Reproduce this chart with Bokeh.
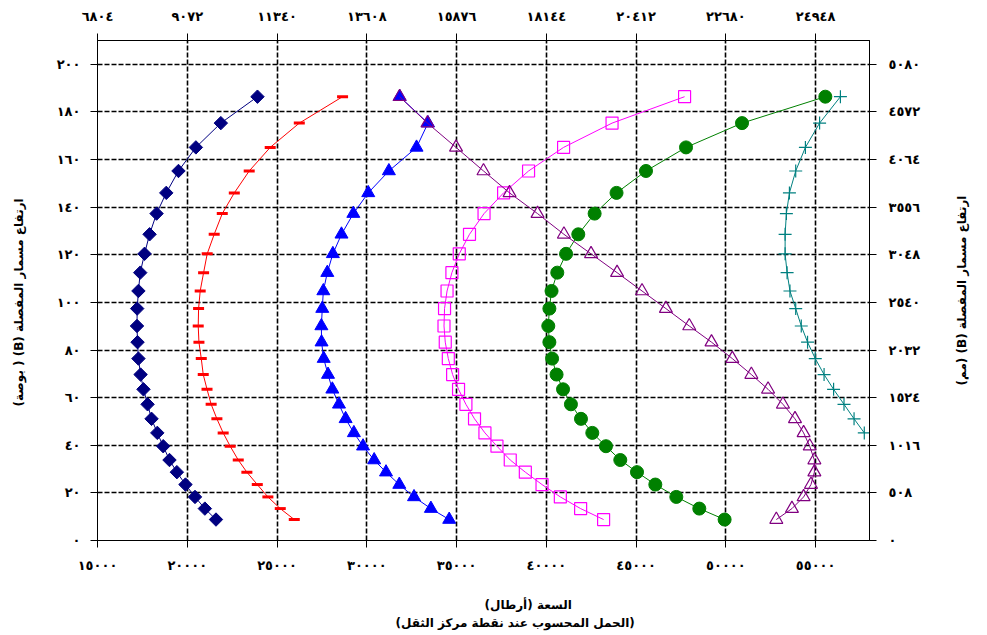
import math
from bokeh.plotting import figure
from bokeh.layouts import row
from bokeh.models import Range1d, LinearAxis, FixedTicker, Title, Label
from bokeh.embed import file_html
from bokeh.resources import INLINE

# ---------------- data ----------------
heights_in = [8.8, 13.4, 18.3, 23.5, 28.7, 33.8, 39.6, 45.2, 51.1, 57.2, 63.5, 69.7, 76.4,
              83.3, 90.1, 97.4, 104.8, 112.5, 120.4, 128.6, 137.3, 146.0, 155.2, 165.1, 175.3, 186.4]

navy_lbs = [21600, 20980, 20430, 19900, 19420, 19010, 18660, 18330, 18010, 17790, 17560, 17400, 17280,
            17230, 17200, 17210, 17280, 17380, 17620, 17900, 18290, 18830, 19510, 20480, 21870, 23910]
red_lbs = [25960, 25180, 24490, 23900, 23320, 22840, 22390, 22000, 21650, 21330, 21100, 20890, 20780,
           20650, 20610, 20630, 20720, 20910, 21110, 21500, 21950, 22620, 23450, 24620, 26240, 28650]
blue_lbs = [34590, 33570, 32630, 31810, 31070, 30410, 29790, 29280, 28820, 28450, 28080, 27840, 27600,
            27480, 27470, 27520, 27580, 27800, 28110, 28590, 29250, 30080, 31230, 32770, 33410, 31830]
magenta_lbs = [43190, 41910, 40780, 39760, 38830, 37990, 37250, 36580, 36000, 35520, 35110, 34780, 34540,
               34370, 34300, 34330, 34470, 34740, 35150, 35720, 36530, 37620, 39010, 40960, 43660, 47700]
green_lbs = [49930, 48520, 47240, 46070, 45050, 44120, 43320, 42560, 41930, 41370, 40930, 40570, 40320,
             40170, 40110, 40170, 40290, 40610, 41100, 41780, 42690, 43910, 45550, 47780, 50900, 55540]
purple_lbs = [52810, 53680, 54330, 54740, 54930, 54930, 54670, 54330, 53850, 53180, 52350, 51420, 50360,
              49200, 47960, 46660, 45330, 43940, 42490, 40980, 39510, 37950, 36500, 34970, 33380, 31830]
teal_heights_in = [45.2, 51.1, 57.2, 63.5, 69.7, 76.4, 83.3, 90.1, 97.4, 104.8, 112.5, 120.4,
                   128.6, 137.3, 146.0, 155.2, 165.1, 175.3, 186.4]
teal_lbs = [57710, 57140, 56580, 56000, 55470, 54980, 54550, 54200, 53890, 53570, 53410, 53300,
            53300, 53370, 53540, 53890, 54430, 55220, 56380]

x_ticks = [15000, 20000, 25000, 30000, 35000, 40000, 45000, 50000, 55000]
bottom_labels = ["١٥٠٠٠", "٢٠٠٠٠", "٢٥٠٠٠", "٣٠٠٠٠", "٣٥٠٠٠", "٤٠٠٠٠", "٤٥٠٠٠", "٥٠٠٠٠", "٥٥٠٠٠"]
top_labels = ["٦٨٠٤", "٩٠٧٢", "١١٣٤٠", "١٣٦٠٨", "١٥٨٧٦", "١٨١٤٤", "٢٠٤١٢", "٢٢٦٨٠", "٢٤٩٤٨"]
y_ticks = [0, 20, 40, 60, 80, 100, 120, 140, 160, 180, 200]
left_labels = ["٠", "٢٠", "٤٠", "٦٠", "٨٠", "١٠٠", "١٢٠", "١٤٠", "١٦٠", "١٨٠", "٢٠٠"]
right_labels = ["٠", "٥٠٨", "١٠١٦", "١٥٢٤", "٢٠٣٢", "٢٥٤٠", "٣٠٤٨", "٣٥٥٦", "٤٠٦٤", "٤٥٧٢", "٥٠٨٠"]

left_title = "ارتفاع مسمار المفصلة (B) ( بوصة)"
right_title = "ارتفاع مسمار المفصلة (B) (مم)"
bottom_title_1 = "السعة (أرطال)"
bottom_title_2 = "(الحمل المحسوب عند نقطة مركز الثقل)"

RLE, PDF = "\u202B", "\u202C"
FONT = "DejaVu Sans"
LEFT_W = 36
RIGHT_W = 47

# ---------------- main figure ----------------
p = figure(width=987 - LEFT_W - RIGHT_W, height=635,
           x_range=Range1d(15000, 58000), y_range=Range1d(0, 210),
           output_backend="svg", toolbar_location=None,
           min_border_left=97 - LEFT_W, min_border_right=118 - RIGHT_W,
           min_border_top=40, min_border_bottom=95)
p.background_fill_color = "white"
p.border_fill_color = "white"
p.outline_line_color = "black"
p.outline_line_width = 1


def style_axis(ax, ticks, labels, standoff):
    ax.ticker = FixedTicker(ticks=ticks)
    ax.major_label_overrides = {t: l for t, l in zip(ticks, labels)}
    ax.axis_line_color = "black"
    ax.axis_line_width = 1
    ax.major_tick_line_color = "black"
    ax.major_tick_line_width = 1
    ax.major_tick_out = 7
    ax.major_tick_in = 0
    ax.minor_tick_line_color = None
    ax.major_label_text_font = FONT
    ax.major_label_text_font_size = "13px"
    ax.major_label_text_font_style = "bold"
    ax.major_label_text_color = "black"
    ax.major_label_standoff = standoff
    ax.axis_label_text_font = FONT
    ax.axis_label_text_font_size = "12px"
    ax.axis_label_text_font_style = "bold"
    ax.axis_label_text_color = "black"


bottom_axis = p.xaxis[0]
style_axis(bottom_axis, x_ticks, bottom_labels, 10)
bottom_axis.axis_label = " "
bottom_axis.axis_label_standoff = 2

style_axis(p.yaxis[0], y_ticks, left_labels, 10)

top_axis = LinearAxis()
style_axis(top_axis, x_ticks, top_labels, 10)
p.add_layout(top_axis, "above")

right_axis = LinearAxis()
style_axis(right_axis, y_ticks, right_labels, 12)
p.add_layout(right_axis, "right")

for g, t in ((p.xgrid[0], x_ticks), (p.ygrid[0], y_ticks)):
    g.ticker = FixedTicker(ticks=t)
    g.grid_line_color = "black"
    g.grid_line_width = 1.6
    g.grid_line_dash = "5 2"

# bottom titles (two lines)
for txt, off in ((bottom_title_1, 387), (bottom_title_2, 298)):
    p.add_layout(Title(text=RLE + txt + PDF, align="left", offset=off, standoff=2,
                       text_font=FONT, text_font_size="12px", text_font_style="bold",
                       text_color="black"), "below")

# ---------------- series ----------------
p.line(navy_lbs, heights_in, line_color="#000080", line_width=1)
p.scatter(navy_lbs, heights_in, marker="square", angle=math.pi / 4, size=9.5,
          fill_color="#000080", line_color="#000080")

p.line(red_lbs, heights_in, line_color="#FF0000", line_width=1)
p.scatter(red_lbs, heights_in, marker="dash", size=11, line_color="#FF0000", line_width=3)

p.line(blue_lbs, heights_in, line_color="#0000FF", line_width=1)
p.scatter(blue_lbs, heights_in, marker="triangle", size=13, fill_color="#0000FF", line_color="#0000FF")

p.line(magenta_lbs, heights_in, line_color="#FF00FF", line_width=1)
p.scatter(magenta_lbs, heights_in, marker="square", size=12, fill_color=None,
          line_color="#FF00FF", line_width=1.2)

p.line(green_lbs, heights_in, line_color="#008000", line_width=1)
p.scatter(green_lbs, heights_in, marker="circle", size=13, fill_color="#008000", line_color="#008000")

p.line(purple_lbs, heights_in, line_color="#800080", line_width=1)
p.scatter(purple_lbs, heights_in, marker="triangle", size=13, fill_color=None,
          line_color="#800080", line_width=1.2)

p.line(teal_lbs, teal_heights_in, line_color="#008080", line_width=1)
p.scatter(teal_lbs, teal_heights_in, marker="cross", size=13, line_color="#008080", line_width=1.2)


# ---------------- side title strips ----------------
def title_strip(width, text, x, y):
    s = figure(width=width, height=635, x_range=Range1d(0, 1), y_range=Range1d(0, 1),
               output_backend="svg", toolbar_location=None,
               x_axis_location=None, y_axis_location=None,
               min_border_left=0, min_border_right=0, min_border_top=0, min_border_bottom=0)
    s.grid.visible = False
    s.outline_line_color = None
    s.background_fill_color = "white"
    s.border_fill_color = "white"
    s.add_layout(Label(x=x, y=y, x_units="screen", y_units="screen",
                       text=RLE + text + PDF, angle=math.pi / 2,
                       text_align="left", text_baseline="middle",
                       text_font=FONT, text_font_size="12px", text_font_style="bold",
                       text_color="black"))
    return s


left_strip = title_strip(LEFT_W, left_title, 18, 134)
right_strip = title_strip(RIGHT_W, right_title, 21, 155)

layout = row(left_strip, p, right_strip)
open("out.html", "w").write(file_html(layout, INLINE))
